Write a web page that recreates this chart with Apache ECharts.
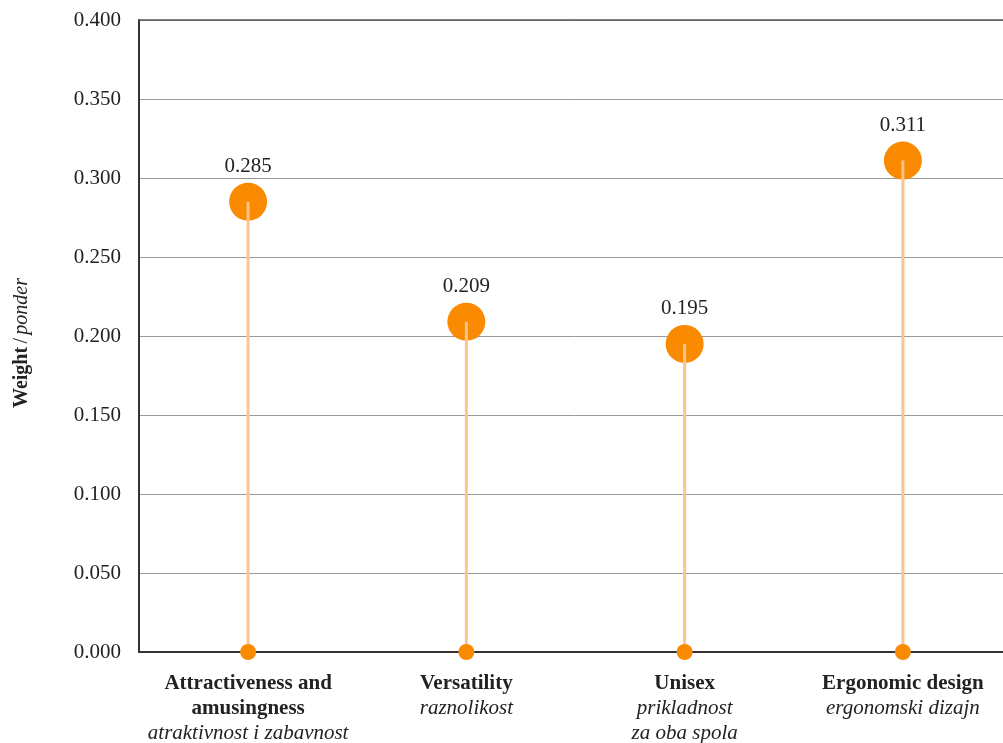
<!DOCTYPE html>
<html>
<head>
<meta charset="utf-8">
<script src="https://cdn.jsdelivr.net/npm/echarts@6/dist/echarts.min.js"></script>
<style>html,body{margin:0;padding:0;background:#fff;overflow:hidden;width:1003px;height:743px}#c{width:1015px;height:743px}</style>
</head>
<body>
<div id="c"></div>
<script>
const categoriesEn = ['Attractiveness and\namusingness', 'Versatility', 'Unisex', 'Ergonomic design'];
const categoriesHr = ['atraktivnost i zabavnost', 'raznolikost', 'prikladnost\nza oba spola', 'ergonomski dizajn'];
const weights = [0.285, 0.209, 0.195, 0.311];
const baseValues = [0, 0, 0, 0];
const yMin = 0, yMax = 0.4, yStep = 0.05;

const FONT = "'Liberation Serif', 'Times New Roman', serif";
const TXT = '#222';

const chart = echarts.init(document.getElementById('c'), null, {renderer: 'canvas'});
chart.setOption({
  backgroundColor: '#fff',
  animation: false,
  grid: {left: 139, top: 20, width: 873, height: 632, containLabel: false, outerBoundsMode: 'none'},
  xAxis: [{
    type: 'category',
    data: categoriesEn,
    axisLine: {show: true, lineStyle: {color: '#333', width: 2}},
    axisTick: {show: false},
    axisLabel: {
      margin: 19,
      interval: 0,
      formatter: function (val, idx) {
        const en = categoriesEn[idx].split('\n').map(l => '{b|' + l + '}').join('\n');
        const hr = categoriesHr[idx].split('\n').map(l => '{i|' + l + '}').join('\n');
        return en + '\n' + hr;
      },
      rich: {
        b: {fontFamily: FONT, fontSize: 21, fontWeight: 'bold', color: TXT, lineHeight: 25},
        i: {fontFamily: FONT, fontSize: 21, fontStyle: 'italic', color: TXT, lineHeight: 25}
      }
    }
  }, {
    type: 'category',
    position: 'top',
    data: categoriesEn,
    axisLine: {show: true, lineStyle: {color: '#555', width: 1.5}},
    axisTick: {show: false},
    axisLabel: {show: false}
  }],
  yAxis: {
    type: 'value',
    min: yMin, max: yMax, interval: yStep,
    axisLine: {show: true, lineStyle: {color: '#333', width: 2}},
    axisTick: {show: false},
    splitLine: {show: true, lineStyle: {color: '#999', width: 1}},
    axisLabel: {
      margin: 18,
      fontFamily: FONT, fontSize: 21, color: TXT,
      formatter: v => v.toFixed(3)
    }
  },
  graphic: [{
    type: 'text',
    x: 22, y: 343,
    rotation: Math.PI / 2,
    style: {
      text: '{b|Weight} {n|/} {i|ponder}',
      align: 'center', verticalAlign: 'middle',
      rich: {
        b: {fontFamily: FONT, fontSize: 20, fontWeight: 'bold', fill: TXT},
        n: {fontFamily: FONT, fontSize: 20, fill: TXT},
        i: {fontFamily: FONT, fontSize: 20, fontStyle: 'italic', fill: TXT}
      }
    }
  }],
  series: [{
    type: 'scatter',
    data: weights,
    symbol: 'circle',
    symbolSize: 38,
    itemStyle: {color: '#FA8A00', opacity: 1},
    z: 2,
    label: {
      show: true, position: 'top', distance: 6,
      fontFamily: FONT, fontSize: 21, color: TXT,
      formatter: p => p.value.toFixed(3)
    }
  }, {
    type: 'bar',
    data: weights,
    barWidth: 3,
    itemStyle: {color: '#FFC48C'},
    z: 3
  }, {
    type: 'scatter',
    data: baseValues,
    symbol: 'circle',
    symbolSize: 16,
    itemStyle: {color: '#FA8A00', opacity: 1},
    z: 4
  }]
});
</script>
</body>
</html>
